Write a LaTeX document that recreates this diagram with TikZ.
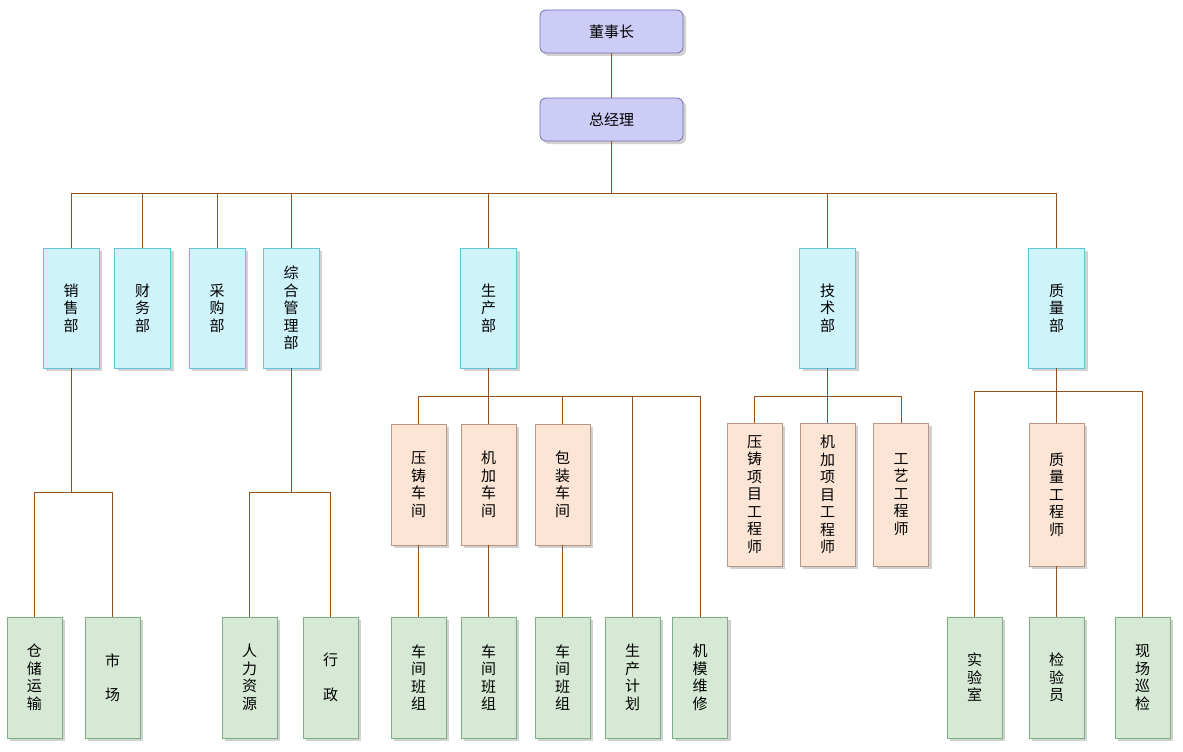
\documentclass[tikz,border=0pt]{standalone}
\usepackage{fontspec}
\newfontfamily\cjk{Noto Sans CJK SC}
\usetikzlibrary{shadows}
\definecolor{linec}{RGB}{150,82,25}
\definecolor{purfill}{RGB}{204,204,247}
\definecolor{purdraw}{RGB}{110,110,175}
\definecolor{cyfill}{RGB}{206,243,251}
\definecolor{cydraw}{RGB}{100,195,215}
\definecolor{pefill}{RGB}{252,229,213}
\definecolor{pedraw}{RGB}{185,150,130}
\definecolor{grfill}{RGB}{213,233,213}
\definecolor{grdraw}{RGB}{125,175,135}
\tikzset{
  base/.style={draw, line width=0.8pt, align=center, inner sep=0pt,
    font=\cjk\fontsize{15}{17.5}\selectfont,
    drop shadow={shadow xshift=3pt, shadow yshift=-3pt, fill=black, opacity=0.18}},
  topbox/.style={base, rounded corners=6pt, fill=purfill, draw=purdraw, minimum width=143pt, minimum height=43pt},
  dept/.style={base, fill=cyfill, draw=cydraw, minimum width=56pt, minimum height=120pt},
  mid/.style={base, fill=pefill, draw=pedraw, minimum width=55pt, minimum height=121pt},
  midtall/.style={base, fill=pefill, draw=pedraw, minimum width=55pt, minimum height=143pt},
  leaf/.style={base, fill=grfill, draw=grdraw, minimum width=55pt, minimum height=121pt},
  conn/.style={draw=linec, line width=0.9pt}
}
\begin{document}
\begin{tikzpicture}[x=1pt,y=-1pt]
\useasboundingbox[fill=white] (0,0) rectangle (1183,752);
% top
\node[topbox] (dsz) at (611.5,31.5) {董事长};
\node[topbox] (zjl) at (611.5,119.5) {总经理};
% departments
\node[dept] (xsb) at (71,308) {销\\售\\部};
\node[dept] (cwb) at (142.5,308) {财\\务\\部};
\node[dept] (cgb) at (217,308) {采\\购\\部};
\node[dept] (zhb) at (291,308) {综\\合\\管\\理\\部};
\node[dept] (scb) at (488.5,308) {生\\产\\部};
\node[dept] (jsb) at (827.5,308) {技\\术\\部};
\node[dept] (zlb) at (1056.5,308) {质\\量\\部};
% middle
\node[mid] (yzcj) at (418.5,484.5) {压\\铸\\车\\间};
\node[mid] (jjcj) at (488.5,484.5) {机\\加\\车\\间};
\node[mid] (bzcj) at (562.5,484.5) {包\\装\\车\\间};
\node[midtall] (yzgc) at (754.5,494.5) {压\\铸\\项\\目\\工\\程\\师};
\node[midtall] (jjgc) at (827.5,494.5) {机\\加\\项\\目\\工\\程\\师};
\node[midtall] (gygc) at (901,494.5) {工\\艺\\工\\程\\师};
\node[midtall] (zlgc) at (1056.5,494.5) {质\\量\\工\\程\\师};
% leaves
\node[leaf] (ccys) at (34.5,677.5) {仓\\储\\运\\输};
\node[leaf] (sc) at (112.5,677.5) {市\\[17pt]场};
\node[leaf] (rlzy) at (249.5,677.5) {人\\力\\资\\源};
\node[leaf] (xz) at (330.5,677.5) {行\\[17pt]政};
\node[leaf] (bz1) at (418.5,677.5) {车\\间\\班\\组};
\node[leaf] (bz2) at (488.5,677.5) {车\\间\\班\\组};
\node[leaf] (bz3) at (562.5,677.5) {车\\间\\班\\组};
\node[leaf] (scjh) at (632.5,677.5) {生\\产\\计\\划};
\node[leaf] (jmwx) at (700,677.5) {机\\模\\维\\修};
\node[leaf] (sys) at (974.5,677.5) {实\\验\\室};
\node[leaf] (jyy) at (1056.5,677.5) {检\\验\\员};
\node[leaf] (xcxj) at (1142.5,677.5) {现\\场\\巡\\检};
% connectors
\draw[conn] (dsz) -- (zjl);
\foreach \c in {xsb,cwb,cgb,zhb,scb,jsb,zlb}
  \draw[conn] (zjl.south) -- ++(0,52) -| (\c.north);
\foreach \c in {yzcj,jjcj,bzcj,scjh,jmwx}
  \draw[conn] (scb.south) -- ++(0,28) -| (\c.north);
\foreach \c in {yzgc,jjgc,gygc}
  \draw[conn] (jsb.south) -- ++(0,28) -| (\c.north);
\foreach \c in {sys,zlgc,xcxj}
  \draw[conn] (zlb.south) -- ++(0,23) -| (\c.north);
\foreach \c in {ccys,sc}
  \draw[conn] (xsb.south) -- ++(0,124) -| (\c.north);
\foreach \c in {rlzy,xz}
  \draw[conn] (zhb.south) -- ++(0,124) -| (\c.north);
\draw[conn] (yzcj) -- (bz1);
\draw[conn] (jjcj) -- (bz2);
\draw[conn] (bzcj) -- (bz3);
\draw[conn] (zlgc) -- (jyy);
\end{tikzpicture}
\end{document}
